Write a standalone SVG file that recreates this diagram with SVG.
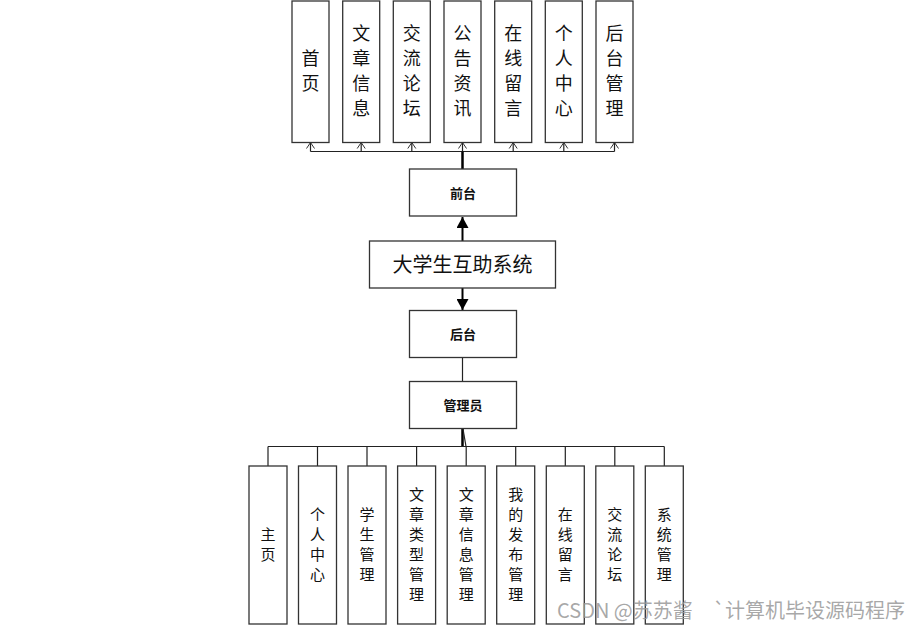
<svg xmlns="http://www.w3.org/2000/svg" width="917" height="629" viewBox="0 0 917 629">
<style>
.box{fill:#fff;stroke:#333;stroke-width:1.3}
.ln{stroke:#222;stroke-width:1.2;fill:none}
.t1{font-family:"Noto Sans CJK SC","Liberation Sans",sans-serif;font-size:18px;fill:#111;text-anchor:middle}
.t2{font-family:"Noto Sans CJK SC","Liberation Sans",sans-serif;font-size:15px;fill:#111;text-anchor:middle}
.tb{font-family:"Noto Sans CJK SC","Liberation Sans",sans-serif;font-size:13px;font-weight:bold;fill:#111;text-anchor:middle}
.tm{font-family:"Noto Sans CJK SC","Liberation Sans",sans-serif;font-size:20px;fill:#111;text-anchor:middle}
.wm{font-family:"Noto Sans CJK SC","Liberation Sans",sans-serif;font-size:20px;fill:#999;fill-opacity:0.85}
</style>
<defs>
<marker id="open" markerWidth="8" markerHeight="10" refX="6" refY="5" orient="auto" markerUnits="userSpaceOnUse">
<path d="M0,1 L6,5 L0,9" fill="none" stroke="#333" stroke-width="1"/>
</marker>
<marker id="fill" markerWidth="12" markerHeight="12" refX="11" refY="6" orient="auto" markerUnits="userSpaceOnUse">
<path d="M0,0 L11,6 L0,12 z" fill="#000"/>
</marker>
</defs>
<g id="connectors">
<path class="ln" d="M310.5,151.5 H614.5"/>
<path class="ln" d="M310.5,151.5 V142.5" marker-end="url(#open)"/>
<path class="ln" d="M361.2,151.5 V142.5" marker-end="url(#open)"/>
<path class="ln" d="M411.8,151.5 V142.5" marker-end="url(#open)"/>
<path class="ln" d="M462.5,151.5 V142.5" marker-end="url(#open)"/>
<path class="ln" d="M513.2,151.5 V142.5" marker-end="url(#open)"/>
<path class="ln" d="M563.8,151.5 V142.5" marker-end="url(#open)"/>
<path class="ln" d="M614.5,151.5 V142.5" marker-end="url(#open)"/>
<path d="M462.5,151.5 V169" stroke="#000" stroke-width="2.5"/>
<path d="M462.5,241 V217" stroke="#000" stroke-width="2" marker-end="url(#fill)"/>
<path d="M462.5,288 V310" stroke="#000" stroke-width="2" marker-end="url(#fill)"/>
<path class="ln" d="M462.5,357 V381"/>
<path d="M462.5,429 V446.5" stroke="#000" stroke-width="2.5"/>
<path class="ln" d="M463,429 L466,446.5"/>
<path class="ln" d="M268,446.5 H664.3"/>
<path class="ln" d="M268,446.5 V466 M317.5,446.5 V466 M367,446.5 V466 M416.6,446.5 V466 M466.2,446.5 V466 M515.7,446.5 V466 M565.3,446.5 V466 M614.8,446.5 V466 M664.3,446.5 V466"/>
</g>
<g id="n-shouye"><rect class="box" x="292" y="1" width="37" height="141.5"/><text class="t1" x="310.5"><tspan x="310.5" y="65">首</tspan><tspan x="310.5" y="90">页</tspan></text></g>
<g id="n-wenzhang"><rect class="box" x="342.7" y="1" width="37" height="141.5"/><text class="t1"><tspan x="361.2" y="40">文</tspan><tspan x="361.2" y="65">章</tspan><tspan x="361.2" y="90">信</tspan><tspan x="361.2" y="115">息</tspan></text></g>
<g id="n-jiaoliu"><rect class="box" x="393.3" y="1" width="37" height="141.5"/><text class="t1"><tspan x="411.8" y="40">交</tspan><tspan x="411.8" y="65">流</tspan><tspan x="411.8" y="90">论</tspan><tspan x="411.8" y="115">坛</tspan></text></g>
<g id="n-gonggao"><rect class="box" x="444" y="1" width="37" height="141.5"/><text class="t1"><tspan x="462.5" y="40">公</tspan><tspan x="462.5" y="65">告</tspan><tspan x="462.5" y="90">资</tspan><tspan x="462.5" y="115">讯</tspan></text></g>
<g id="n-zaixian"><rect class="box" x="494.7" y="1" width="37" height="141.5"/><text class="t1"><tspan x="513.2" y="40">在</tspan><tspan x="513.2" y="65">线</tspan><tspan x="513.2" y="90">留</tspan><tspan x="513.2" y="115">言</tspan></text></g>
<g id="n-geren"><rect class="box" x="545.3" y="1" width="37" height="141.5"/><text class="t1"><tspan x="563.8" y="40">个</tspan><tspan x="563.8" y="65">人</tspan><tspan x="563.8" y="90">中</tspan><tspan x="563.8" y="115">心</tspan></text></g>
<g id="n-houtaiguanli"><rect class="box" x="596" y="1" width="37" height="141.5"/><text class="t1"><tspan x="614.5" y="40">后</tspan><tspan x="614.5" y="65">台</tspan><tspan x="614.5" y="90">管</tspan><tspan x="614.5" y="115">理</tspan></text></g>
<g id="n-qiantai"><rect class="box" x="409.5" y="169" width="107" height="47"/><text class="tb" x="463" y="197.5">前台</text></g>
<g id="n-main"><rect class="box" x="369.5" y="241" width="186" height="47"/><text class="tm" x="462.5" y="271.5">大学生互助系统</text></g>
<g id="n-houtai"><rect class="box" x="409.5" y="310.5" width="107" height="47"/><text class="tb" x="463" y="339">后台</text></g>
<g id="n-admin"><rect class="box" x="409.5" y="381.5" width="107" height="47"/><text class="tb" x="463" y="410">管理员</text></g>
<g id="b-zhuye"><rect class="box" x="249" y="466" width="38" height="158"/><text class="t2"><tspan x="268" y="540">主</tspan><tspan x="268" y="560">页</tspan></text></g>
<g id="b-geren"><rect class="box" x="298.5" y="466" width="38" height="158"/><text class="t2"><tspan x="317.5" y="520">个</tspan><tspan x="317.5" y="540">人</tspan><tspan x="317.5" y="560">中</tspan><tspan x="317.5" y="580">心</tspan></text></g>
<g id="b-xuesheng"><rect class="box" x="348" y="466" width="38" height="158"/><text class="t2"><tspan x="367" y="520">学</tspan><tspan x="367" y="540">生</tspan><tspan x="367" y="560">管</tspan><tspan x="367" y="580">理</tspan></text></g>
<g id="b-leixing"><rect class="box" x="397.6" y="466" width="38" height="158"/><text class="t2"><tspan x="416.6" y="500">文</tspan><tspan x="416.6" y="520">章</tspan><tspan x="416.6" y="540">类</tspan><tspan x="416.6" y="560">型</tspan><tspan x="416.6" y="580">管</tspan><tspan x="416.6" y="600">理</tspan></text></g>
<g id="b-xinxi"><rect class="box" x="447.2" y="466" width="38" height="158"/><text class="t2"><tspan x="466.2" y="500">文</tspan><tspan x="466.2" y="520">章</tspan><tspan x="466.2" y="540">信</tspan><tspan x="466.2" y="560">息</tspan><tspan x="466.2" y="580">管</tspan><tspan x="466.2" y="600">理</tspan></text></g>
<g id="b-fabu"><rect class="box" x="496.7" y="466" width="38" height="158"/><text class="t2"><tspan x="515.7" y="500">我</tspan><tspan x="515.7" y="520">的</tspan><tspan x="515.7" y="540">发</tspan><tspan x="515.7" y="560">布</tspan><tspan x="515.7" y="580">管</tspan><tspan x="515.7" y="600">理</tspan></text></g>
<g id="b-zaixian"><rect class="box" x="546.3" y="466" width="38" height="158"/><text class="t2"><tspan x="565.3" y="520">在</tspan><tspan x="565.3" y="540">线</tspan><tspan x="565.3" y="560">留</tspan><tspan x="565.3" y="580">言</tspan></text></g>
<g id="b-jiaoliu"><rect class="box" x="595.8" y="466" width="38" height="158"/><text class="t2"><tspan x="614.8" y="520">交</tspan><tspan x="614.8" y="540">流</tspan><tspan x="614.8" y="560">论</tspan><tspan x="614.8" y="580">坛</tspan></text></g>
<g id="b-xitong"><rect class="box" x="645.3" y="466" width="38" height="158"/><text class="t2"><tspan x="664.3" y="520">系</tspan><tspan x="664.3" y="540">统</tspan><tspan x="664.3" y="560">管</tspan><tspan x="664.3" y="580">理</tspan></text></g>
<text class="wm" x="557" y="618">CSDN @苏苏酱</text>
<text class="wm" x="713" y="618">`计算机毕设源码程序</text>
</svg>
